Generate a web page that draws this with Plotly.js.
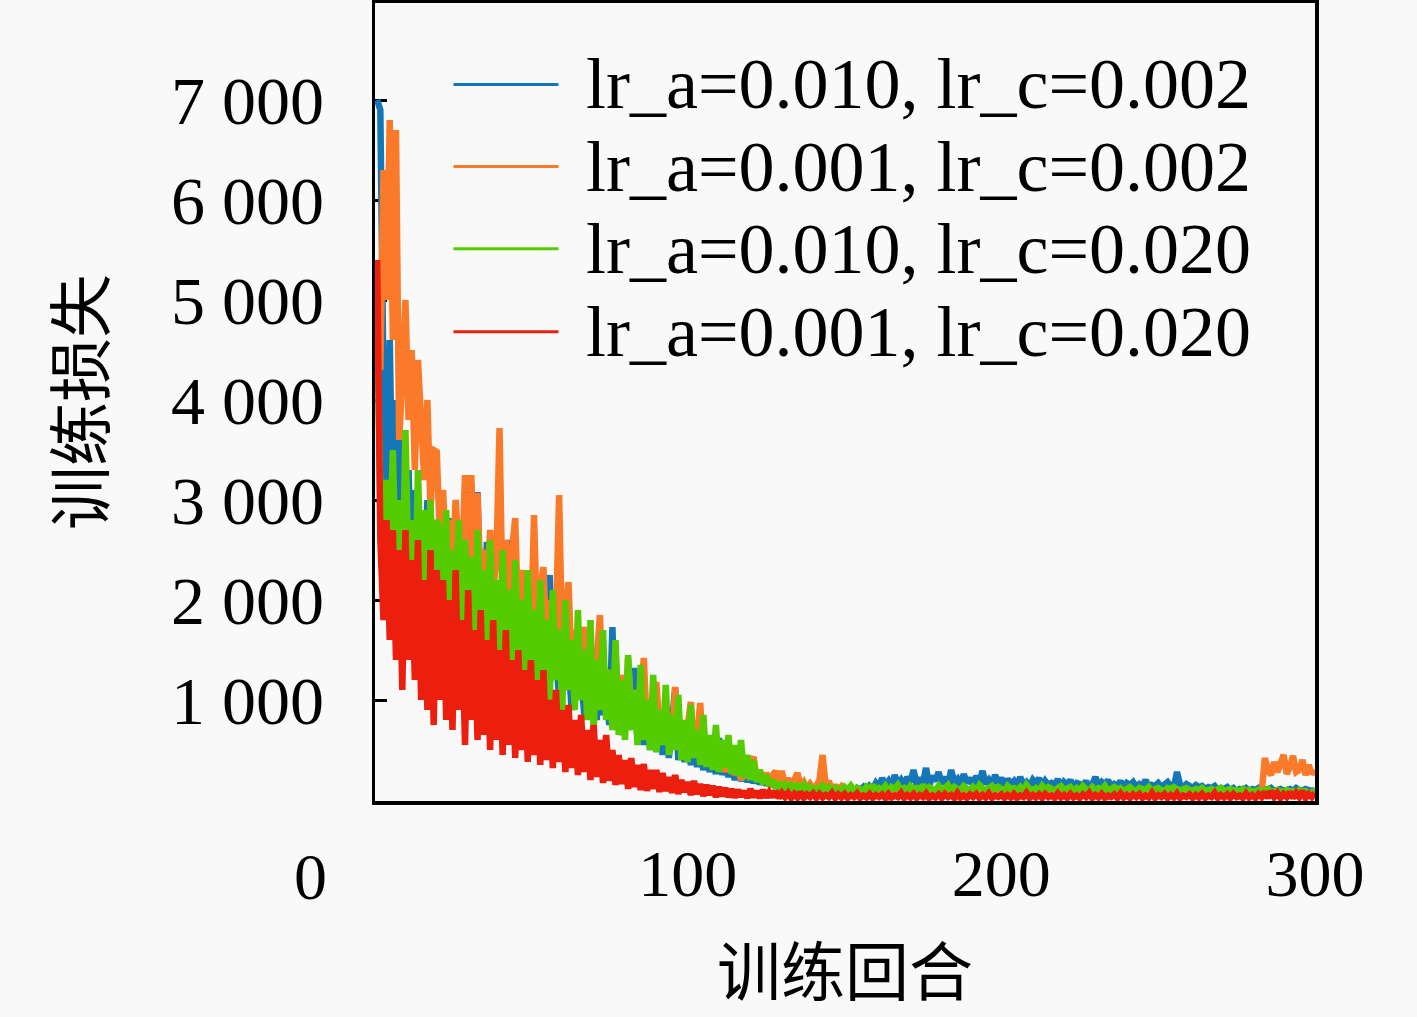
<!DOCTYPE html>
<html>
<head>
<meta charset="utf-8">
<script src="https://cdn.plot.ly/plotly-3.0.1.min.js"></script>
<style>
html,body{margin:0;padding:0;background:#f9f9f9;}
#chart{width:1417px;height:1017px;}
</style>
</head>
<body>
<div id="chart"></div>
<script>
// ---------- data ----------
const seriesNames = [
  "lr_a=0.010, lr_c=0.002",
  "lr_a=0.001, lr_c=0.002",
  "lr_a=0.010, lr_c=0.020",
  "lr_a=0.001, lr_c=0.020"
];
const seriesColors = ["#1677b8", "#fb7a2a", "#55cc00", "#ec1e0e"];

const lossBlue = [
  7000,6900,4200,3000,4600,2700,4000,2500,3600,2300,
  3300,2100,3100,1900,2900,2000,3000,1800,2700,1700,
  2600,1900,2500,2820,1700,2400,2730,1600,2300,1800,
  2200,1500,3080,1700,2000,2580,1400,2100,1600,1900,
  1500,2000,2600,1400,1800,1300,2100,1500,1700,1200,
  1900,1300,1600,1100,1800,2250,1200,1500,1000,1700,
  1100,1400,900,1600,1000,1300,850,1500,900,1200,
  800,1400,850,1100,750,1730,700,1000,650,1100,
  700,950,1320,600,900,550,1000,500,850,480,
  800,450,750,420,700,1120,400,650,380,600,
  350,550,330,500,300,450,280,400,260,620,
  250,380,230,350,200,320,190,300,180,260,
  170,240,160,220,150,200,140,190,130,170,
  120,160,110,150,100,140,120,130,100,120,
  90,110,100,130,80,120,90,110,80,100,
  90,110,80,120,100,130,90,140,110,170,
  130,220,150,190,120,250,160,200,140,230,
  180,300,150,220,170,320,140,240,190,280,
  160,230,150,300,180,210,140,260,170,220,
  150,240,180,290,160,200,150,250,170,220,
  140,210,160,190,130,230,150,180,140,200,
  160,220,130,190,150,170,140,210,120,180,
  150,200,130,170,160,140,190,120,160,230,
  140,180,150,200,130,160,140,190,120,170,
  150,180,130,160,140,200,120,150,140,170,
  130,160,180,140,120,280,150,130,160,140,
  120,150,130,140,110,130,120,140,100,120,
  110,130,100,120,90,110,100,120,90,110,
  100,120,90,110,100,120,90,100,110,90,
  100,110,90,120,100,90,110,100,90,100
];

const lossOrange = [
  5200,4300,6300,5000,6800,4600,6700,3600,4200,5000,
  3800,4500,3300,4400,3800,3200,4000,2900,3500,3480,
  2600,3100,2400,2800,2300,3000,2500,2300,3250,2400,
  3250,2200,3070,2100,2500,2000,2700,2100,2400,3720,
  1900,2600,1800,2500,2820,1700,2300,1900,2200,1600,
  2850,1700,2100,2330,1500,2000,1400,1800,3050,1500,
  1900,2180,1300,1700,1500,1200,1730,1300,1600,1100,
  1400,1850,1000,1300,1200,900,1450,1000,1250,800,
  1420,900,1100,750,1000,1420,700,950,650,1180,
  700,900,600,850,550,1130,600,750,500,700,
  980,450,650,970,400,550,625,350,500,300,
  450,280,400,430,250,350,200,300,220,380,
  430,200,300,180,270,200,250,290,170,290,
  150,220,130,200,270,140,180,120,160,110,
  140,200,450,130,190,100,150,90,130,80,
  110,70,120,60,100,70,90,50,80,60,
  70,50,90,40,80,60,70,50,90,60,
  80,50,70,60,90,40,70,60,80,50,
  70,60,90,50,70,40,80,60,70,50,
  60,80,50,70,40,90,60,70,50,80,
  60,50,70,40,80,60,90,50,70,60,
  80,50,60,70,40,80,60,50,70,60,
  50,70,60,80,40,60,70,50,60,80,
  50,60,70,40,80,60,50,70,60,50,
  70,60,40,80,50,60,70,50,60,40,
  60,70,50,60,40,70,60,50,60,70,
  50,60,40,70,50,60,50,70,40,60,
  50,60,40,50,60,40,50,60,40,50,
  60,50,70,420,300,250,380,280,350,450,
  260,330,440,280,300,400,250,350,260,300
];

const lossGreen = [
  4800,3000,2600,3200,2400,3500,2200,3000,2000,3700,
  2300,2800,1900,3300,2100,2900,1800,3000,2000,2800,
  2700,2000,2900,1600,2500,2100,2800,1500,2600,1900,
  2430,1500,2700,1800,2300,1400,2600,1700,2200,1300,
  2500,1600,2100,1300,2400,1500,2000,1200,2300,1400,
  1900,1100,2200,1300,1800,1000,2100,1200,1700,900,
  2000,1100,1600,900,1900,1000,1500,800,1800,700,
  1400,900,1700,800,1300,700,1600,650,1200,600,
  1450,700,1100,550,1350,600,1000,500,1250,480,
  900,550,1150,450,850,500,1050,400,800,380,
  950,420,700,350,850,330,650,300,750,280,
  600,320,650,260,550,240,600,220,450,200,
  400,180,300,160,250,140,200,120,180,110,
  150,100,170,90,140,110,150,80,130,100,
  120,90,140,100,130,80,120,110,90,130,
  100,140,90,120,110,80,130,100,150,90,
  120,100,140,90,130,110,150,100,120,90,
  140,110,120,90,150,100,130,110,90,140,
  100,120,150,90,130,110,100,140,120,90,
  130,100,150,110,90,120,140,100,130,110,
  90,140,110,120,100,130,90,150,110,100,
  120,90,140,100,130,110,90,120,140,100,
  110,130,90,120,100,140,110,90,130,100,
  120,100,140,90,110,130,100,120,90,110,
  130,100,90,120,110,100,130,90,110,120,
  100,90,120,110,130,100,90,110,120,100,
  90,110,100,120,90,100,110,90,100,120,
  90,100,110,90,100,80,110,90,100,80,
  90,100,80,90,110,80,90,100,80,90,
  100,80,90,70,100,80,90,70,80,90
];

const lossRed = [
  5400,2600,1800,2800,1600,2700,1400,2500,1100,2700,
  1400,2400,1200,2600,1000,2200,900,2500,750,2300,
  1000,2200,800,2000,700,2300,900,1800,550,2100,
  800,1700,600,1900,650,1600,500,1800,600,1500,
  450,1700,550,1400,420,1500,500,1300,380,1400,
  450,1200,350,1300,400,1000,320,1100,380,900,
  280,950,320,800,250,850,280,700,200,750,
  230,600,170,650,190,500,150,450,160,400,
  110,420,130,350,100,360,90,300,110,300,
  80,270,90,230,70,250,60,200,80,180,
  50,190,60,160,40,150,50,140,30,130,
  40,120,30,110,25,100,35,90,20,110,
  30,90,20,100,25,80,30,90,20,70,
  30,70,20,60,25,80,20,55,30,65,
  20,60,25,50,30,70,20,55,25,60,
  20,50,30,65,20,45,25,60,20,50,
  30,55,20,60,25,45,30,70,20,50,
  25,60,20,50,30,65,20,45,25,55,
  20,60,30,50,20,70,25,45,20,55,
  30,60,20,50,25,65,20,45,30,55,
  20,50,25,60,20,45,30,70,20,50,
  25,55,20,60,30,45,20,65,25,50,
  20,60,25,45,20,55,30,70,20,50,
  25,60,20,45,30,55,20,65,25,50,
  20,55,30,60,20,45,25,70,20,50,
  30,60,20,50,25,65,20,45,30,55,
  20,50,25,60,20,45,30,70,20,50,
  25,55,20,60,30,45,20,65,25,50,
  20,60,30,80,20,90,30,70,20,60,
  30,80,20,70,30,90,20,60,30,70
];

const episodes = lossBlue.map((_, i) => i + 1);

const yTickVals = [1000, 2000, 3000, 4000, 5000, 6000, 7000];
const yTickText = ["1 000", "2 000", "3 000", "4 000", "5 000", "6 000", "7 000"];
const xTickVals = [100, 200, 300];
const xTickText = ["100", "200", "300"];
const xZeroLabel = "0";
const xTitle = "训练回合";
const yTitle = "训练损失";

// ---------- chart ----------
const allLoss = [lossBlue, lossOrange, lossGreen, lossRed];
const traces = allLoss.map((ys, k) => ({
  x: episodes, y: ys, type: "scatter", mode: "lines",
  name: seriesNames[k],
  line: {color: seriesColors[k], width: 6.5},
  showlegend: false
}));

const serif = "'Liberation Serif', 'Noto Sans CJK SC', serif";
const cjk = "'Noto Sans CJK SC', sans-serif";

// legend drawn as shapes + text
const legendRowsY = [0.898, 0.795, 0.692, 0.588];
const shapes = legendRowsY.map((yy, k) => ({
  type: "line", xref: "paper", yref: "paper",
  x0: 0.0835, x1: 0.1952, y0: yy, y1: yy,
  line: {color: seriesColors[k], width: 3}
}));
const annotations = legendRowsY.map((yy, k) => ({
  xref: "paper", yref: "paper", x: 0.222, y: yy,
  xanchor: "left", yanchor: "middle",
  text: seriesNames[k], showarrow: false,
  font: {family: serif, size: 72, color: "#000"}
}));
annotations.push({
  xref: "paper", yref: "paper", x: -0.069, y: -0.095,
  xanchor: "center", yanchor: "middle",
  text: xZeroLabel, showarrow: false,
  font: {family: serif, size: 66, color: "#000"}
});
annotations.push({
  xref: "paper", yref: "paper", x: 0.5, y: -0.2685,
  xanchor: "center", yanchor: "bottom",
  text: xTitle, showarrow: false,
  font: {family: cjk, size: 64, color: "#000"}
});

const layout = {
  width: 1417, height: 1017,
  paper_bgcolor: "#f9f9f9", plot_bgcolor: "#f9f9f9",
  margin: {l: 375, r: 102, t: 3, b: 216, pad: 0},
  showlegend: false,
  xaxis: {
    range: [0.3, 300], showgrid: false, zeroline: false,
    showline: true, mirror: true, linecolor: "#000", linewidth: 3.5,
    ticks: "", tickvals: xTickVals, ticktext: xTickText,
    ticklabelstandoff: 12,
    tickfont: {family: serif, size: 66, color: "#000"},
    layer: "below traces"
  },
  yaxis: {
    range: [-10, 7970], showgrid: false, zeroline: false,
    showline: true, mirror: true, linecolor: "#000", linewidth: 3.5,
    ticks: "inside", ticklen: 12, tickwidth: 3, tickcolor: "#000",
    tickvals: yTickVals, ticktext: yTickText,
    ticklabelstandoff: 34,
    tickfont: {family: serif, size: 68, color: "#000"},
    title: {text: yTitle, font: {family: cjk, size: 64, color: "#000"}, standoff: 46},
    layer: "below traces"
  },
  shapes: shapes,
  annotations: annotations
};

Plotly.newPlot("chart", traces, layout, {staticPlot: true, displayModeBar: false});
</script>
</body>
</html>
